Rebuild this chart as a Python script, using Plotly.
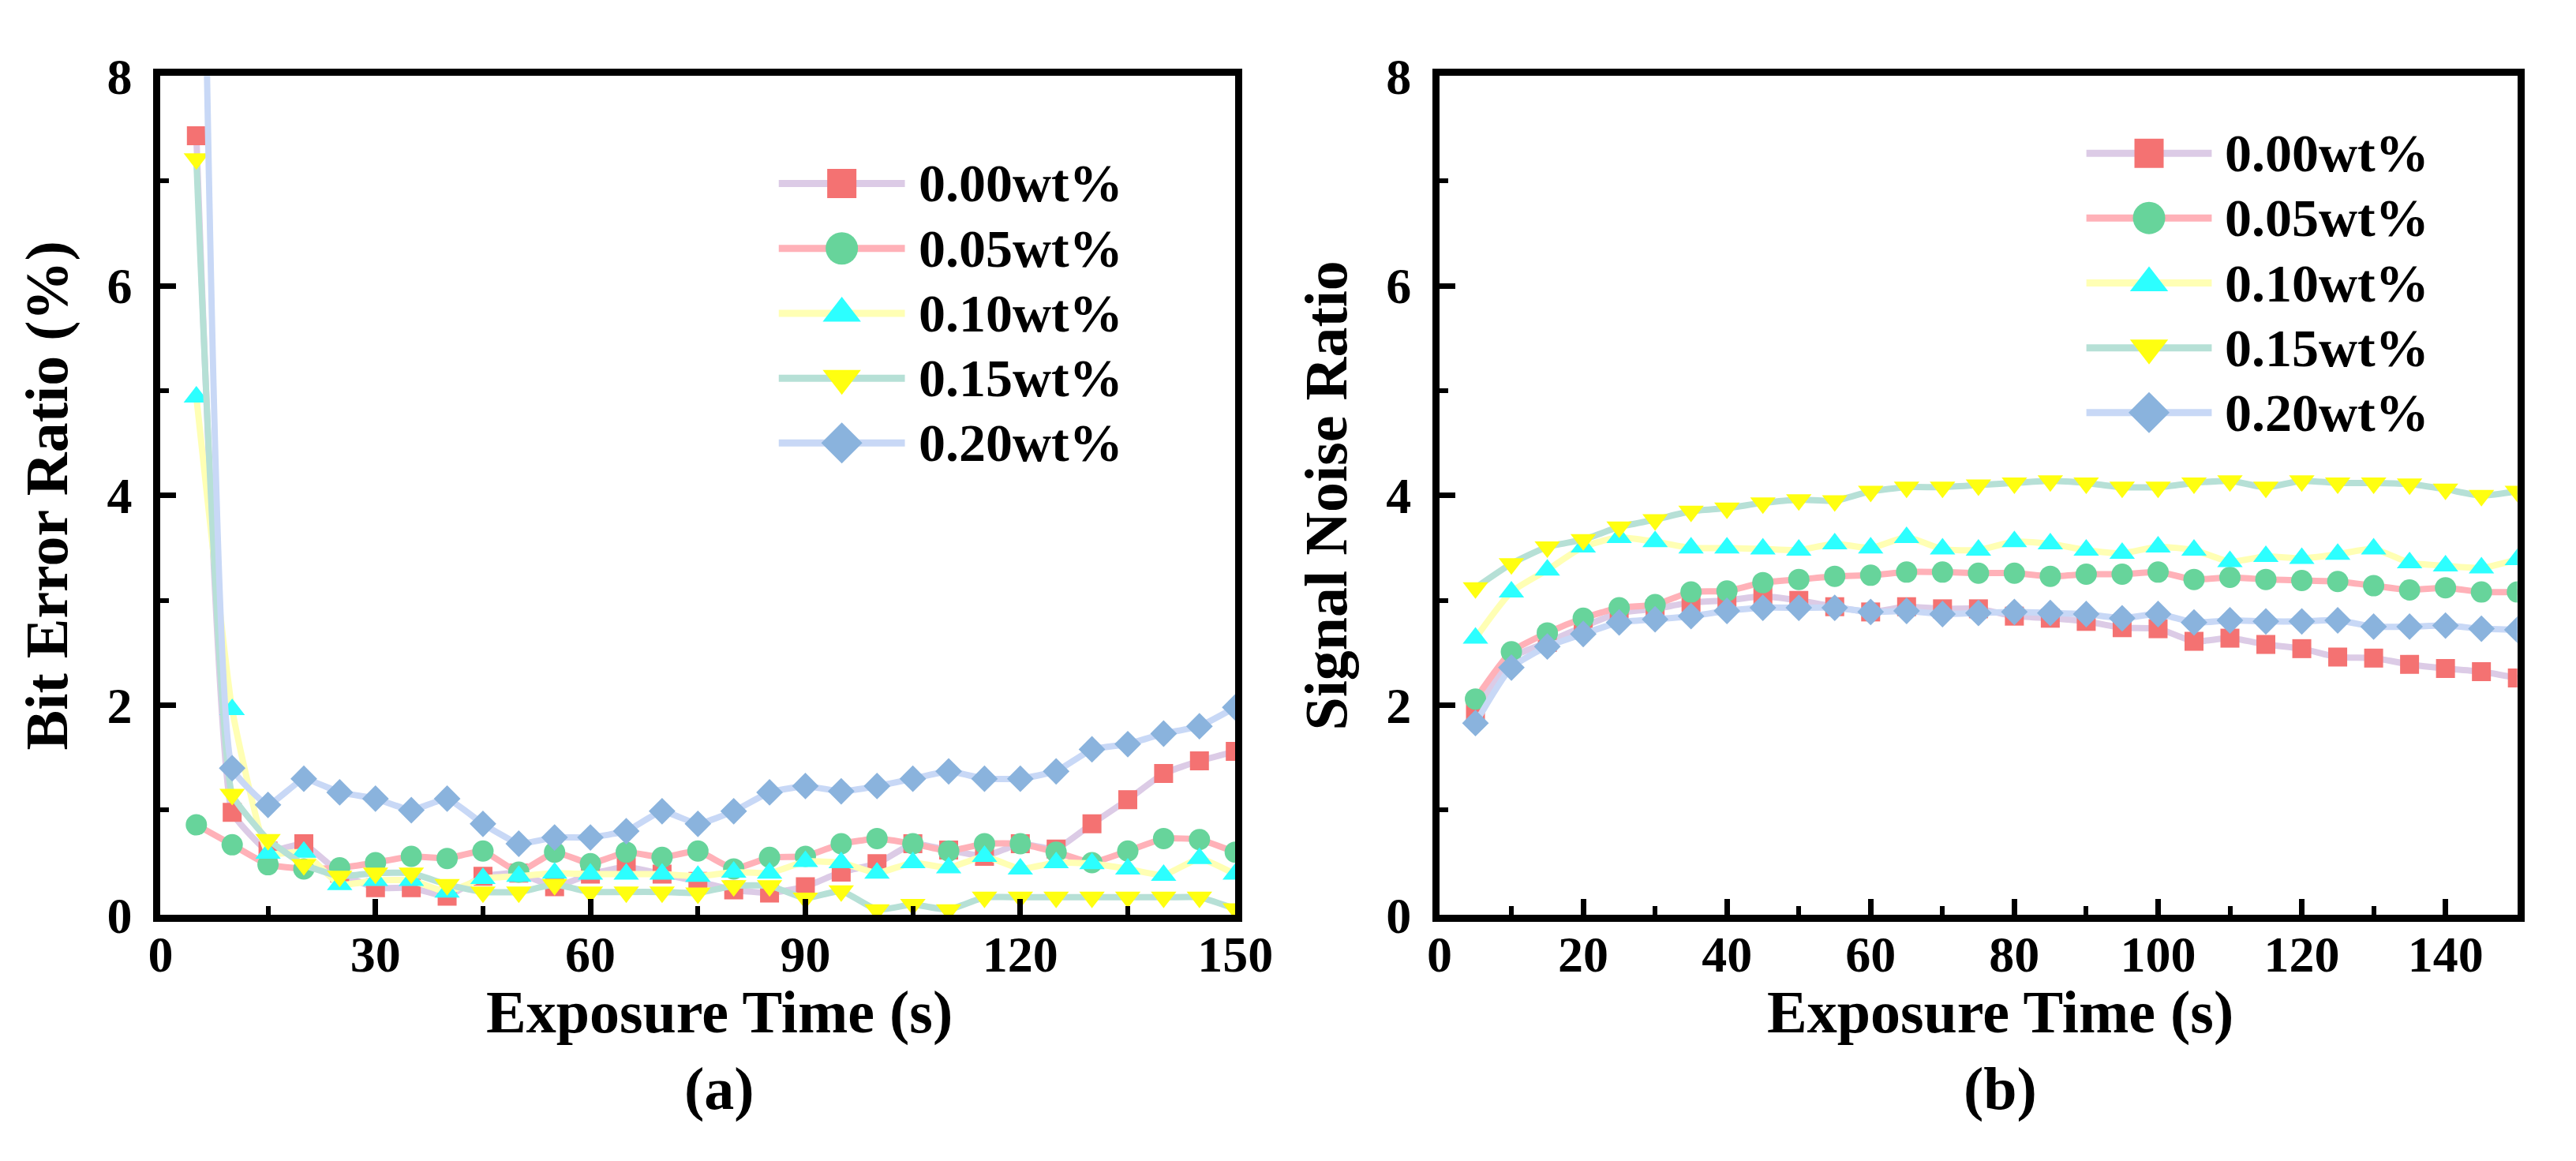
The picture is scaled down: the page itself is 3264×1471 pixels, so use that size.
import plotly.graph_objects as go

# Экспозиция, с
exposure = [5, 10, 15, 20, 25, 30, 35, 40, 45, 50, 55, 60, 65, 70, 75,
            80, 85, 90, 95, 100, 105, 110, 115, 120, 125, 130, 135, 140, 145, 150]
labels = ["0.00wt%", "0.05wt%", "0.10wt%", "0.15wt%", "0.20wt%"]

# (a) Bit Error Ratio, %
ber_000 = [7.43, 0.98, 0.61, 0.68, 0.40, 0.26, 0.26, 0.18, 0.37, 0.40, 0.27, 0.39, 0.46, 0.39, 0.32,
           0.24, 0.21, 0.27, 0.41, 0.49, 0.68, 0.62, 0.56, 0.68, 0.63, 0.87, 1.10, 1.35, 1.47, 1.56]
ber_005 = [0.86, 0.67, 0.48, 0.44, 0.45, 0.50, 0.56, 0.54, 0.61, 0.41, 0.60, 0.49, 0.60, 0.55, 0.61,
           0.44, 0.55, 0.56, 0.68, 0.73, 0.68, 0.61, 0.68, 0.68, 0.60, 0.50, 0.61, 0.73, 0.72, 0.60]
ber_010 = [4.94, 1.96, 0.59, 0.60, 0.29, 0.33, 0.33, 0.22, 0.35, 0.37, 0.40, 0.39, 0.39, 0.39, 0.37,
           0.41, 0.40, 0.51, 0.50, 0.40, 0.50, 0.45, 0.56, 0.44, 0.50, 0.49, 0.44, 0.38, 0.54, 0.39]
ber_015 = [7.21, 1.15, 0.72, 0.48, 0.37, 0.40, 0.40, 0.29, 0.22, 0.22, 0.29, 0.22, 0.22, 0.22, 0.21,
           0.28, 0.28, 0.16, 0.23, 0.05, 0.10, 0.05, 0.17, 0.17, 0.17, 0.17, 0.17, 0.17, 0.17, 0.06]
ber_020 = [15.0, 1.40, 1.05, 1.30, 1.17, 1.11, 1.00, 1.11, 0.87, 0.68, 0.74, 0.74, 0.80, 0.99, 0.87,
           0.99, 1.17, 1.23, 1.18, 1.23, 1.30, 1.37, 1.30, 1.30, 1.37, 1.58, 1.63, 1.73, 1.80, 1.98]

# (b) Signal Noise Ratio
snr_000 = [1.93, 2.45, 2.60, 2.75, 2.88, 2.92, 2.98, 3.00, 3.04, 3.00, 2.94, 2.89, 2.94, 2.92, 2.92,
           2.85, 2.83, 2.80, 2.74, 2.73, 2.61, 2.64, 2.58, 2.54, 2.46, 2.45, 2.39, 2.35, 2.32, 2.26]
snr_005 = [2.06, 2.51, 2.69, 2.83, 2.93, 2.96, 3.08, 3.09, 3.17, 3.20, 3.23, 3.24, 3.27, 3.27, 3.26,
           3.26, 3.23, 3.25, 3.25, 3.27, 3.20, 3.22, 3.20, 3.19, 3.18, 3.14, 3.10, 3.12, 3.08, 3.08]
snr_010 = [2.64, 3.08, 3.29, 3.51, 3.60, 3.56, 3.50, 3.50, 3.49, 3.48, 3.54, 3.50, 3.60, 3.49, 3.48,
           3.56, 3.54, 3.48, 3.45, 3.51, 3.48, 3.37, 3.42, 3.40, 3.44, 3.49, 3.36, 3.33, 3.31, 3.39]
snr_015 = [3.12, 3.35, 3.51, 3.58, 3.70, 3.77, 3.85, 3.88, 3.93, 3.96, 3.95, 4.04, 4.08, 4.08, 4.10,
           4.12, 4.14, 4.12, 4.08, 4.08, 4.12, 4.14, 4.08, 4.14, 4.12, 4.12, 4.11, 4.06, 4.00, 4.04]
snr_020 = [1.83, 2.36, 2.56, 2.68, 2.79, 2.82, 2.85, 2.90, 2.93, 2.93, 2.93, 2.89, 2.90, 2.87, 2.88,
           2.89, 2.88, 2.87, 2.83, 2.87, 2.79, 2.81, 2.80, 2.80, 2.81, 2.75, 2.75, 2.76, 2.73, 2.72]

ber_series = [ber_000, ber_005, ber_010, ber_015, ber_020]
snr_series = [snr_000, snr_005, snr_010, snr_015, snr_020]

# стиль серий
line_colors = ["#dccbe6", "#ffb1b8", "#ffffb4", "#b6e0d6", "#c8d8f6"]
marker_colors = ["#f47272", "#67d49b", "#2cffff", "#ffff10", "#8ab3dd"]
symbols = ["square", "circle", "triangle-up", "triangle-down", "diamond"]
sizes = [24, 27, 28, 28, 26]
legend_sizes = [37, 41, 42, 42, 40]

FONT = "Liberation Serif"
W, H = 3264, 1471

fig = go.Figure()

for i in range(5):
    fig.add_trace(go.Scatter(x=exposure, y=ber_series[i], name=labels[i], mode="lines+markers",
                             line=dict(color=line_colors[i], width=8, shape="spline", smoothing=0.35),
                             marker=dict(color=marker_colors[i], symbol=symbols[i], size=sizes[i]),
                             xaxis="x", yaxis="y", showlegend=False))
for i in range(5):
    fig.add_trace(go.Scatter(x=exposure, y=snr_series[i], name=labels[i], mode="lines+markers",
                             line=dict(color=line_colors[i], width=8, shape="spline", smoothing=0.6),
                             marker=dict(color=marker_colors[i], symbol=symbols[i], size=sizes[i]),
                             xaxis="x2", yaxis="y2", showlegend=False))

# легенды в стиле Origin (длинная линия + крупный маркер), координаты в пикселях страницы
legend_boxes = [dict(x0=982, x1=1145, tx=1161, rows=[199, 285.5, 372, 458.5, 544.5]),
                dict(x0=2672, x1=2834, tx=2849, rows=[159, 245, 331.5, 418, 504])]
for box in legend_boxes:
    xm = (box["x0"] + box["x1"]) / 2
    for i, row in enumerate(box["rows"]):
        fig.add_trace(go.Scatter(x=[box["x0"], box["x1"]], y=[row, row], mode="lines",
                                 line=dict(color=line_colors[i], width=9),
                                 xaxis="x3", yaxis="y3", showlegend=False, hoverinfo="skip"))
        fig.add_trace(go.Scatter(x=[xm], y=[row], mode="markers",
                                 marker=dict(color=marker_colors[i], symbol=symbols[i], size=legend_sizes[i]),
                                 xaxis="x3", yaxis="y3", showlegend=False, hoverinfo="skip"))
        fig.add_annotation(text=labels[i], x=box["tx"], y=row, xref="x3", yref="y3",
                           xanchor="left", yanchor="middle", showarrow=False,
                           font=dict(family=FONT, size=68, color="black", weight="bold"))

tick_font = dict(family=FONT, size=64, color="black", weight="bold")
title_font = dict(family=FONT, size=76, color="black", weight="bold")

axis_common = dict(showline=True, linecolor="black", linewidth=9, mirror=True,
                   ticks="inside", ticklen=20, tickwidth=7, tickcolor="black",
                   showgrid=False, zeroline=False, tickfont=tick_font,
                   minor=dict(ticks="inside", ticklen=11, tickwidth=6, tickcolor="black", showgrid=False))

ydom = [1 - 1173 / H, 1 - 56 / H]

fig.update_layout(
    width=W, height=H,
    margin=dict(l=0, r=0, t=0, b=0),
    paper_bgcolor="white", plot_bgcolor="rgba(0,0,0,0)",
    font=dict(family=FONT, color="black"),
    xaxis=dict(axis_common, domain=[183 / W, 1572 / W], range=[0, 150], tickvals=list(range(0, 151, 30)),
               anchor="y", ticklabelstandoff=-14),
    yaxis=dict(axis_common, domain=ydom, range=[0, 8], tickvals=[0, 2, 4, 6, 8],
               anchor="x", ticklabelstandoff=14,
               title=dict(text="Bit Error Ratio (%)", font=title_font, standoff=28)),
    xaxis2=dict(axis_common, domain=[1836 / W, 3229 / W], range=[0, 150], tickvals=list(range(0, 141, 20)),
                anchor="y2", ticklabelstandoff=-14),
    yaxis2=dict(axis_common, domain=ydom, range=[0, 8], tickvals=[0, 2, 4, 6, 8],
                anchor="x2", ticklabelstandoff=14,
                title=dict(text="Signal Noise Ratio", font=title_font, standoff=28)),
    xaxis3=dict(domain=[0, 1], range=[0, W], visible=False, fixedrange=True),
    yaxis3=dict(domain=[0, 1], range=[H, 0], visible=False, fixedrange=True, anchor="x3"),
    showlegend=False,
)

fig.update_xaxes(minor_dtick=15, selector=dict(anchor="y"))
fig.update_xaxes(minor_dtick=10, selector=dict(anchor="y2"))
fig.update_yaxes(minor_dtick=1, selector=dict(anchor="x"))
fig.update_yaxes(minor_dtick=1, selector=dict(anchor="x2"))

# подписи осей X и панелей (в Origin смещены вправо от центра рамки)
for xc, tag in [(905, "(a)"), (2561, "(b)")]:
    fig.add_annotation(text="Exposure Time (s)", x=xc / W, y=1 - 1302 / H, xref="paper", yref="paper",
                       xanchor="center", yanchor="middle", showarrow=False, font=title_font)
    fig.add_annotation(text=tag, x=xc / W, y=1 - 1404 / H, xref="paper", yref="paper",
                       xanchor="center", yanchor="middle", showarrow=False, font=title_font)

fig.write_html("out.html")
